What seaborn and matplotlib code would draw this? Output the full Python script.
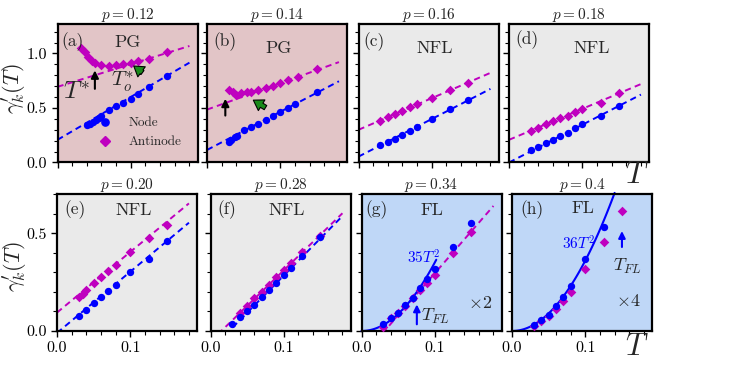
import numpy as np
import pandas as pd
import matplotlib
matplotlib.use("Agg")
import matplotlib.pyplot as plt
import seaborn as sns
from matplotlib.ticker import MultipleLocator, FixedLocator, FormatStrFormatter, NullFormatter
from matplotlib.lines import Line2D

# ---------------- data ----------------
titles = [r"$p=0.12$", r"$p=0.14$", r"$p=0.16$", r"$p=0.18$",
          r"$p=0.20$", r"$p=0.28$", r"$p=0.34$", r"$p=0.4$"]
panel_tags = ["(a)", "(b)", "(c)", "(d)", "(e)", "(f)", "(g)", "(h)"]
regimes = ["PG", "PG", "NFL", "NFL", "NFL", "NFL", "FL", "FL"]

a_T_node = [0.04, 0.044, 0.048, 0.052, 0.056, 0.06, 0.07, 0.08, 0.09, 0.1, 0.11, 0.125, 0.15]
a_node = [0.34, 0.355, 0.375, 0.39, 0.41, 0.43, 0.485, 0.515, 0.55, 0.585, 0.63, 0.69, 0.79]
a_T_anti = [0.032, 0.038, 0.042, 0.047, 0.051, 0.06, 0.07, 0.08, 0.09, 0.1, 0.11, 0.125, 0.15]
a_anti = [1.05, 1.01, 0.97, 0.935, 0.915, 0.897, 0.887, 0.892, 0.905, 0.916, 0.931, 0.953, 1.014]

b_T_node = [0.03, 0.033, 0.038, 0.041, 0.05, 0.06, 0.07, 0.08, 0.09, 0.1, 0.11, 0.12, 0.15]
b_node = [0.192, 0.208, 0.233, 0.245, 0.30, 0.325, 0.355, 0.392, 0.43, 0.463, 0.5, 0.54, 0.645]
b_T_anti = [0.03, 0.035, 0.04, 0.047, 0.054, 0.06, 0.07, 0.08, 0.09, 0.1, 0.11, 0.124, 0.15]
b_anti = [0.663, 0.645, 0.623, 0.639, 0.645, 0.651, 0.669, 0.685, 0.706, 0.731, 0.755, 0.786, 0.854]

c_T_node = [0.03, 0.04, 0.05, 0.06, 0.07, 0.08, 0.1, 0.125, 0.15]
c_node = [0.16, 0.19, 0.214, 0.254, 0.291, 0.325, 0.402, 0.491, 0.571]
c_T_anti = [0.03, 0.04, 0.05, 0.06, 0.07, 0.08, 0.1, 0.125, 0.15]
c_anti = [0.385, 0.42, 0.448, 0.476, 0.506, 0.54, 0.589, 0.663, 0.731]

d_T_node = [0.03, 0.04, 0.05, 0.06, 0.07, 0.08, 0.09, 0.1, 0.125, 0.15]
d_node = [0.115, 0.146, 0.177, 0.208, 0.245, 0.275, 0.316, 0.353, 0.423, 0.522]
d_T_anti = [0.03, 0.04, 0.05, 0.06, 0.07, 0.08, 0.09, 0.1, 0.125, 0.15]
d_anti = [0.29, 0.32, 0.35, 0.38, 0.405, 0.43, 0.46, 0.49, 0.55, 0.64]

e_T_node = [0.03, 0.04, 0.05, 0.06, 0.07, 0.08, 0.1, 0.125, 0.15]
e_node = [0.077, 0.107, 0.141, 0.172, 0.206, 0.235, 0.300, 0.366, 0.461]
e_T_anti = [0.03, 0.035, 0.04, 0.05, 0.06, 0.07, 0.08, 0.1, 0.125, 0.15]
e_anti = [0.175, 0.189, 0.21, 0.244, 0.274, 0.308, 0.337, 0.402, 0.474, 0.542]

f_T_node = [0.03, 0.04, 0.05, 0.06, 0.07, 0.08, 0.09, 0.1, 0.11, 0.125, 0.15]
f_node = [0.036, 0.07, 0.1, 0.133, 0.172, 0.209, 0.247, 0.286, 0.32, 0.385, 0.482]
f_T_anti = [0.04, 0.05, 0.06, 0.07, 0.08, 0.09, 0.1, 0.11, 0.125, 0.15]
f_anti = [0.094, 0.128, 0.167, 0.201, 0.235, 0.274, 0.312, 0.349, 0.405, 0.485]

g_T_node = [0.03, 0.04, 0.05, 0.06, 0.07, 0.08, 0.09, 0.1, 0.125, 0.15]
g_node = [0.034, 0.065, 0.094, 0.133, 0.170, 0.218, 0.264, 0.315, 0.431, 0.55]
g_T_anti = [0.03, 0.04, 0.05, 0.06, 0.07, 0.08, 0.09, 0.1, 0.125, 0.15]
g_anti = [0.022, 0.065, 0.09, 0.128, 0.167, 0.209, 0.247, 0.286, 0.397, 0.507]

h_T_node = [0.03, 0.04, 0.05, 0.06, 0.07, 0.08, 0.1, 0.125]
h_node = [0.031, 0.056, 0.082, 0.128, 0.175, 0.23, 0.366, 0.53]
h_T_anti = [0.03, 0.04, 0.05, 0.06, 0.07, 0.08, 0.1, 0.125, 0.15]
h_anti = [0.025, 0.05, 0.075, 0.11, 0.155, 0.2, 0.317, 0.456, 0.615]

# linear fits (intercept, slope); None = no fit drawn
node_fits = [(0.208, 3.93), (0.115, 3.5), (0.054, 3.45), (0.0, 3.46),
             (-0.01, 3.13), (-0.0966, 3.8), None, None]
anti_fits = [(0.694, 2.08), (0.485, 2.42), (0.30, 2.9), (0.208, 2.84),
             (0.094, 3.1), (-0.0536, 3.64), (-0.135, 4.3), None]
# Fermi-liquid T^2 coefficients for panels g, h and their range
t2_coef = {6: 35, 7: 36}
t2_tmax = {6: 0.102, 7: 0.14}

node_T = [a_T_node, b_T_node, c_T_node, d_T_node, e_T_node, f_T_node, g_T_node, h_T_node]
node_v = [a_node, b_node, c_node, d_node, e_node, f_node, g_node, h_node]
anti_T = [a_T_anti, b_T_anti, c_T_anti, d_T_anti, e_T_anti, f_T_anti, g_T_anti, h_T_anti]
anti_v = [a_anti, b_anti, c_anti, d_anti, e_anti, f_anti, g_anti, h_anti]

# ---------------- style ----------------
sns.set_theme(style="ticks")
plt.rcParams.update({
    "font.family": "serif",
    "font.serif": ["cmr10"],
    "mathtext.fontset": "cm",
    "axes.formatter.use_mathtext": True,
    "axes.linewidth": 1.6,
    "axes.edgecolor": "black",
    "xtick.color": "black", "ytick.color": "black",
    "xtick.direction": "out", "ytick.direction": "out",
    "xtick.major.size": 4, "ytick.major.size": 4,
    "xtick.minor.size": 3, "ytick.minor.size": 3,
    "xtick.major.width": 1.0, "ytick.major.width": 1.0,
    "xtick.minor.width": 0.8, "ytick.minor.width": 0.8,
    "xtick.labelsize": 11.5, "ytick.labelsize": 11.5,
})

NODE_C = "#0000ff"
ANTI_C = "#bf00bf"
face = ["#e2c5c7", "#e2c5c7", "#eaeaea", "#eaeaea",
        "#eaeaea", "#eaeaea", "#bfd7f7", "#bfd7f7"]

W, H = 747, 373
fig = plt.figure(figsize=(W / 100, H / 100), dpi=100)

top_lefts = [57.5, 207, 358.5, 509]
bot_lefts = [57, 210.5, 361.5, 512]
pw = 140
axes = []
for i in range(8):
    if i < 4:
        left, ytop, ybot = top_lefts[i], 24, 162.5
    else:
        left, ytop, ybot = bot_lefts[i - 4], 194, 331
    ax = fig.add_axes([left / W, (H - ybot) / H, pw / W, (ybot - ytop) / H])
    axes.append(ax)

xs = np.linspace(0, 0.18, 50)
for i, ax in enumerate(axes):
    ax.set_facecolor(face[i])
    top = i < 4
    ax.set_xlim(0, 0.191)
    ax.set_ylim(0, 1.27 if top else 0.70)

    # fits
    if node_fits[i] is not None:
        c0, c1 = node_fits[i]
        sns.lineplot(x=xs, y=c0 + c1 * xs, ax=ax, color=NODE_C, lw=1.4,
                     linestyle=(0, (3.2, 2.2)), estimator=None, sort=False, zorder=2)
    if anti_fits[i] is not None:
        c0, c1 = anti_fits[i]
        sns.lineplot(x=xs, y=c0 + c1 * xs, ax=ax, color=ANTI_C, lw=1.4,
                     linestyle=(0, (3.2, 2.2)), estimator=None, sort=False, zorder=2)
    if i in t2_coef:
        ts = np.linspace(0, t2_tmax[i], 60)
        sns.lineplot(x=ts, y=t2_coef[i] * ts ** 2, ax=ax, color=NODE_C, lw=1.5,
                     estimator=None, sort=False, zorder=2)
        ax.lines[-1].set_clip_on(False)

    # data
    sns.scatterplot(x=anti_T[i], y=anti_v[i], ax=ax, color=ANTI_C, marker="D",
                    s=24, linewidth=0, zorder=3, legend=False)
    sns.scatterplot(x=node_T[i], y=node_v[i], ax=ax, color=NODE_C, marker="o",
                    s=28, linewidth=0, zorder=4, legend=False)

    # ticks
    ax.xaxis.set_major_locator(FixedLocator([0.0, 0.1]))
    ax.xaxis.set_minor_locator(FixedLocator(np.arange(0.02, 0.19, 0.02)))
    ax.yaxis.set_major_locator(MultipleLocator(0.5))
    ax.yaxis.set_minor_locator(MultipleLocator(0.1))
    ax.xaxis.set_major_formatter(FormatStrFormatter("%.1f"))
    ax.yaxis.set_major_formatter(FormatStrFormatter("%.1f"))
    if top:
        ax.xaxis.set_major_formatter(NullFormatter())
    if i % 4 != 0:
        ax.yaxis.set_major_formatter(NullFormatter())
    ax.tick_params(which="both", top=False, right=False)
    ax.set_xlabel("")
    ax.set_ylabel("")
    for s in ax.spines.values():
        s.set_linewidth(1.6)
        s.set_visible(True)

    ax.set_title(titles[i], fontsize=11, pad=3.5)

# panel tags and regime labels (axes coords)
tag_pos = [(0.11, 0.872), (0.129, 0.872), (0.11, 0.872), (0.126, 0.885),
           (0.13, 0.883), (0.12, 0.883), (0.11, 0.883), (0.14, 0.883)]
reg_pos = [(0.50, 0.87), (0.51, 0.824), (0.546, 0.824), (0.59, 0.824),
           (0.545, 0.883), (0.545, 0.883), (0.50, 0.883), (0.51, 0.895)]
for i, ax in enumerate(axes):
    ax.text(*tag_pos[i], panel_tags[i], transform=ax.transAxes, fontsize=12.5,
            ha="center", va="center")
    ax.text(*reg_pos[i], regimes[i], transform=ax.transAxes, fontsize=13,
            ha="center", va="center")

# legend in (a)
handles = [Line2D([], [], marker="o", color=NODE_C, ls="none", ms=5.2),
           Line2D([], [], marker="D", color=ANTI_C, ls="none", ms=4.6)]
axes[0].legend(handles, ["Node", "Antinode"], loc="center left",
               bbox_to_anchor=(0.29, 0.215), frameon=False, fontsize=9.5,
               handletextpad=1.3, labelspacing=0.5, handlelength=1.0,
               borderpad=0, borderaxespad=0)

# annotations (a)
ax = axes[0]
ax.annotate("", xy=(0.051, 0.87), xytext=(0.051, 0.65),
            arrowprops=dict(arrowstyle="-|>", color="black", lw=1.5, mutation_scale=11))
ax.text(0.026, 0.64, r"$T^{*}$", fontsize=18, ha="center", va="center")
ax.text(0.088, 0.74, r"$T_o^{*}$", fontsize=15, ha="center", va="center")
ax.annotate("", xy=(0.101, 0.90), xytext=(0.119, 0.81),
            arrowprops=dict(arrowstyle="simple,head_width=0.9,head_length=0.7,tail_width=0.35",
                            fc="#1a8a1a", ec="black", lw=0.8, mutation_scale=10))
# annotations (b)
ax = axes[1]
ax.annotate("", xy=(0.025, 0.61), xytext=(0.025, 0.405),
            arrowprops=dict(arrowstyle="-|>", color="black", lw=1.5, mutation_scale=11))
ax.annotate("", xy=(0.06, 0.585), xytext=(0.083, 0.49),
            arrowprops=dict(arrowstyle="simple,head_width=0.9,head_length=0.7,tail_width=0.35",
                            fc="#1a8a1a", ec="black", lw=0.8, mutation_scale=10))
# annotations (g)
ax = axes[6]
ax.text(0.085, 0.375, r"$35T^2$", color=NODE_C, fontsize=11, ha="center", va="center")
ax.annotate("", xy=(0.0755, 0.15), xytext=(0.0755, 0.02),
            arrowprops=dict(arrowstyle="-|>", color=NODE_C, lw=1.5, mutation_scale=10))
ax.text(0.101, 0.073, r"$T_{FL}$", fontsize=13, ha="center", va="center")
ax.text(0.162, 0.142, r"$\times 2$", fontsize=13, ha="center", va="center")
# annotations (h)
ax = axes[7]
ax.text(0.0905, 0.445, r"$36T^2$", color=NODE_C, fontsize=11, ha="center", va="center")
ax.annotate("", xy=(0.15, 0.525), xytext=(0.15, 0.415),
            arrowprops=dict(arrowstyle="-|>", color=NODE_C, lw=1.5, mutation_scale=10))
ax.text(0.158, 0.33, r"$T_{FL}$", fontsize=13, ha="center", va="center")
ax.text(0.158, 0.155, r"$\times 4$", fontsize=13, ha="center", va="center")

# y labels and T labels
ylab = r"$\gamma^{\prime}_{k}(T)$"
fig.text(14 / W, 1 - 88 / H, ylab, rotation=90, fontsize=16,
         ha="center", va="center")
fig.text(14.5 / W, 1 - 266 / H, ylab, rotation=90, fontsize=16,
         ha="center", va="center")
fig.text(637 / W, 1 - 175 / H, r"$T$", fontsize=22, ha="center", va="center")
fig.text(637 / W, 1 - 347 / H, r"$T$", fontsize=22, ha="center", va="center")

fig.savefig("out.png", dpi=100)
